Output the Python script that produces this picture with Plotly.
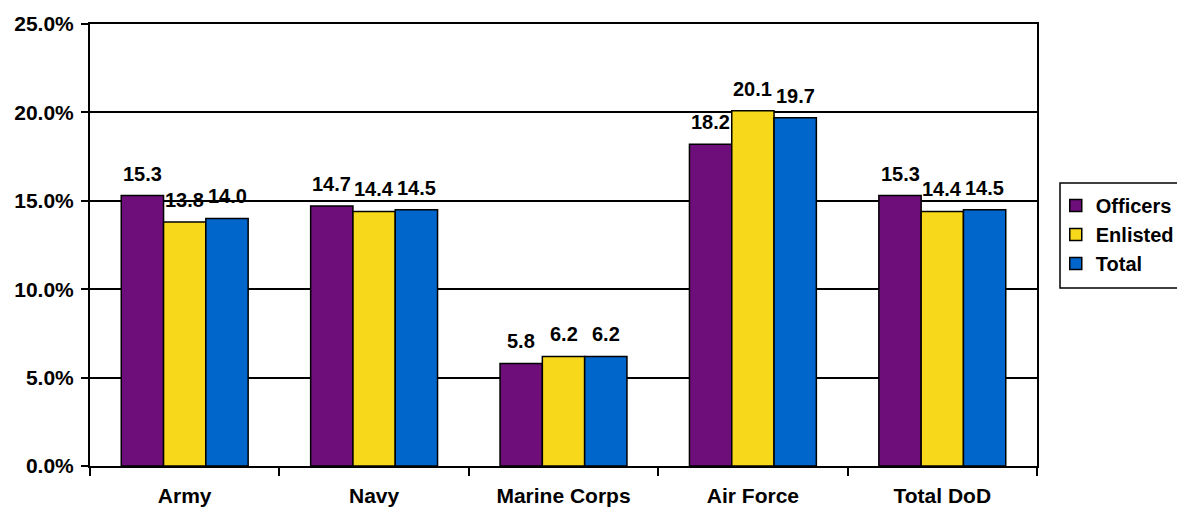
import plotly.graph_objects as go

categories = ["Army", "Navy", "Marine Corps", "Air Force", "Total DoD"]
officers = [15.3, 14.7, 5.8, 18.2, 15.3]
enlisted = [13.8, 14.4, 6.2, 20.1, 14.4]
total = [14.0, 14.5, 6.2, 19.7, 14.5]
series_names = ["Officers", "Enlisted", "Total"]
colors = ["#6E0E7A", "#F8D81A", "#0066CC"]
y_ticks = [0, 5, 10, 15, 20, 25]

FONT = "Liberation Sans, Arial, sans-serif"
BIG = dict(family=FONT, size=21, color="black", weight="bold")
LABEL = dict(family=FONT, size=20, color="black", weight="bold")

fig = go.Figure()
for name, vals, col in zip(series_names, [officers, enlisted, total], colors):
    fig.add_trace(go.Bar(
        name=name, x=categories, y=vals,
        marker=dict(color=col, line=dict(color="black", width=1.5)),
        offsetgroup=name,
    ))

# data labels placed above each bar via annotations on the bar positions
n = len(series_names)
for i, (name, vals) in enumerate(zip(series_names, [officers, enlisted, total])):
    for j, v in enumerate(vals):
        fig.add_annotation(
            x=j, y=v, xref="x", yref="y",
            text=f"{v:.1f}", showarrow=False,
            xshift=(i - (n - 1) / 2) * 42.3,
            yanchor="bottom", yshift=9,
            font=LABEL,
        )

# legend frame (drawn as a shape so the entries can sit closer to its left edge)
fig.add_shape(
    type="rect", xref="paper", yref="paper",
    x0=1.0243, x1=1.2, y0=0.4027, y1=0.6403,
    line=dict(color="black", width=1.5), fillcolor="rgba(0,0,0,0)",
)

fig.update_layout(
    width=1177, height=508,
    barmode="group", bargap=0.33, bargroupgap=0,
    plot_bgcolor="white", paper_bgcolor="white",
    margin=dict(l=90, r=140, t=24, b=42),
    font=dict(family=FONT, color="black"),
    showlegend=True,
    legend=dict(
        xref="container", yref="container",
        x=0.897, y=0.634, xanchor="left", yanchor="top",
        borderwidth=0, bgcolor="rgba(0,0,0,0)",
        font=LABEL, tracegroupgap=0, itemwidth=30,
    ),
)
fig.update_xaxes(
    showline=True, linecolor="black", linewidth=2, mirror=True,
    ticks="outside", tickson="boundaries", ticklen=8, tickwidth=2, tickcolor="black",
    showgrid=False, automargin=False, ticklabelstandoff=10,
    tickfont=BIG,
)
fig.update_yaxes(
    range=[0, 25], tickvals=y_ticks,
    ticktext=[f"{v:.1f}%" for v in y_ticks],
    showline=True, linecolor="black", linewidth=2, mirror=True,
    ticks="outside", ticklen=7, tickwidth=2, tickcolor="black",
    showgrid=True, gridcolor="black", gridwidth=1.5,
    tickfont=BIG, automargin=False, ticklabelstandoff=3,
    zeroline=False,
)
fig.write_html("out.html", config={"displayModeBar": False},
               post_script="document.body.style.margin='0';")
